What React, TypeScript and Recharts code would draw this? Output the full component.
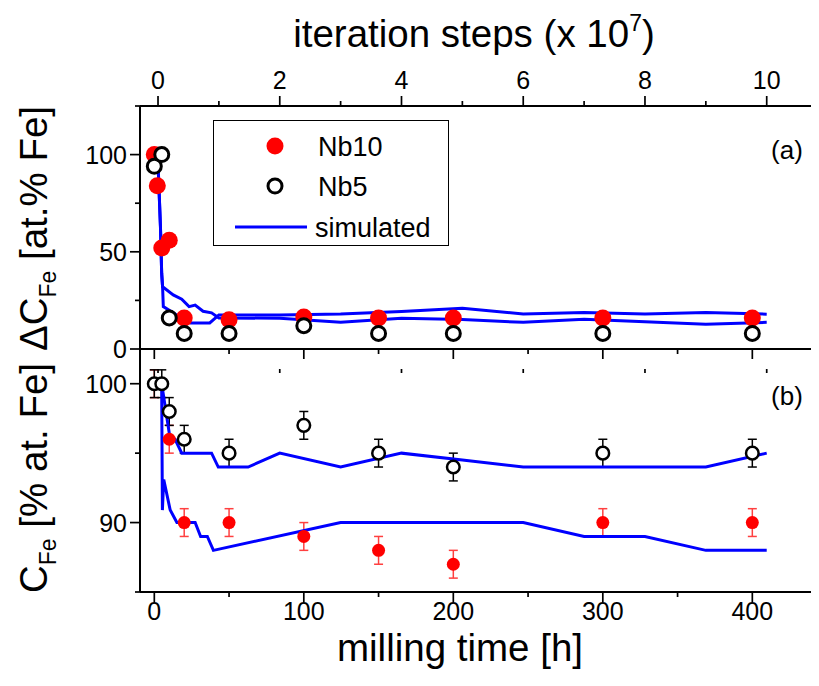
import React from 'react';
import { ComposedChart, Scatter, Line, XAxis, YAxis, ErrorBar, Legend } from 'recharts';

const FONT = "'Liberation Sans', Arial, Helvetica, sans-serif";
const BLUE = '#0000ff';
const RED = '#ff0000';

// panel (a): change of Fe content
const nb10HoursA = [0, 2, 5, 10, 20, 50, 100, 150, 200, 300, 400];
const nb10DeltaA = [100, 84, 52, 56, 16, 15, 16.5, 16, 16, 16, 16];
const nb5HoursA = [0, 5, 10, 20, 50, 100, 150, 200, 300, 400];
const nb5DeltaA = [94, 100, 16, 8, 8, 12, 8, 8, 8, 8];

// simulated curves are stored in iteration steps (x 10^7)
const simStepsA1 = [0, 0.04, 0.06, 0.075, 0.25, 0.39, 0.51, 0.61, 0.74, 0.88, 1, 2, 3, 4, 5, 6, 7, 8, 9, 10];
const simDeltaA1 = [95.6, 63, 39, 32, 27.8, 25.6, 21.8, 22.6, 19.4, 18.6, 16, 15.8, 13.7, 15.8, 15.2, 13.7, 15.3, 14, 12.7, 13.7];
const simStepsA2 = [0, 0.04, 0.06, 0.075, 0.087, 0.25, 0.42, 0.53, 0.85, 1, 2, 3, 4, 5, 6, 7, 8, 9, 10];
const simDeltaA2 = [95.6, 63, 39, 32, 21.8, 18.6, 15.1, 13.4, 13.4, 17.5, 17.5, 18, 19.3, 21, 18, 18.8, 18, 18.8, 17.9];

// panel (b): Fe content
const nb10HoursB = [0, 10, 20, 50, 100, 150, 200, 300, 400];
const nb10ConcB = [100, 96, 90, 90, 89, 88, 87, 90, 90];
const nb5HoursB = [0, 5, 10, 20, 50, 100, 150, 200, 300, 400];
const nb5ConcB = [100, 100, 98, 96, 95, 97, 95, 94, 95, 95];
const concErr = 1;

const simStepsB1 = [0.06, 0.2, 0.28, 0.39, 0.88, 0.99, 1.48, 2, 3, 4, 5, 6, 7, 8, 9, 10];
const simConcB1 = [100, 96, 96, 95, 95, 94, 94, 95, 94, 95, 94.5, 94, 94, 94, 94, 95];
const simStepsB2 = [0.06, 0.072, 0.094, 0.2, 0.31, 0.61, 0.7, 0.81, 0.91, 3, 4, 5, 6, 7, 8, 9, 10];
const simConcB2 = [99.8, 90.9, 93.1, 90.9, 90, 90, 89, 89, 88, 90, 90, 90, 90, 89, 89, 88, 88];

// ticks
const hourTicks = [0, 50, 100, 150, 200, 250, 300, 350, 400];
const hourMajors = [0, 100, 200, 300, 400];
const stepTicks = [0, 1, 2, 3, 4, 5, 6, 7, 8, 9, 10];
const stepMajors = [0, 2, 4, 6, 8, 10];
const deltaTicks = [0, 25, 50, 75, 100, 125];
const deltaMajors = [0, 50, 100];
const concTicks = [85, 90, 95, 100];
const concMajors = [90, 100];

const HOUR_DOMAIN = [-9.57, 444.6];
const STEP_DOMAIN = [-0.296, 10.859];

const pts = (xs: number[], ys: number[], key: string) => xs.map((x, i) => ({ [key]: x, v: ys[i] }));
const withErr = (xs: number[], ys: number[]) => xs.map((x, i) => ({ h: x, v: ys[i], e: concErr }));

const nb10A = pts(nb10HoursA, nb10DeltaA, 'h');
const nb5A = pts(nb5HoursA, nb5DeltaA, 'h');
const simA1 = pts(simStepsA1, simDeltaA1, 's');
const simA2 = pts(simStepsA2, simDeltaA2, 's');
const nb10B = withErr(nb10HoursB, nb10ConcB);
const nb5B = withErr(nb5HoursB, nb5ConcB);
const simB1 = pts(simStepsB1, simConcB1, 's');
const simB2 = pts(simStepsB2, simConcB2, 's');

// custom ticks: long major ticks, short minor ones, direction chosen per axis
function makeTick(side: 'top' | 'bottom' | 'left', majors: number[], inward = false, labels = true, gap = 0) {
  return (p: any) => {
    const v = p.payload.value;
    const major = majors.includes(v);
    const len = major ? 10 : 5;
    const x = p.x;
    const y = p.y;
    if (side === 'left') {
      return (
        <g>
          <line x1={x - len} x2={x} y1={y} y2={y} stroke="#000" strokeWidth={1.7} />
          {labels && major && (
            <text x={x - gap} y={y} dy="0.36em" textAnchor="end" fontSize={25} fontFamily={FONT} fill="#000">
              {v}
            </text>
          )}
        </g>
      );
    }
    const out = side === 'top' ? -1 : 1;
    const d = inward ? -out : out;
    return (
      <g>
        <line x1={x} x2={x} y1={y} y2={y + d * len} stroke="#000" strokeWidth={1.7} />
        {labels && major && (
          <text x={x} y={y + out * gap} textAnchor="middle" fontSize={25} fontFamily={FONT} fill="#000">
            {v}
          </text>
        )}
      </g>
    );
  };
}

const redDot = (r: number) => (p: any) => <circle cx={p.cx} cy={p.cy} r={r} fill={RED} />;
const openDot = (r: number, w: number) => (p: any) => (
  <circle cx={p.cx} cy={p.cy} r={r} fill="#fff" stroke="#000" strokeWidth={w} />
);

const TITLE = 38.5;

const TopTitle = () => (
  <text x={466} y={39} textAnchor="middle" fontSize={TITLE} fontFamily={FONT} fill="#000">
    iteration steps (x 10
    <tspan dy={-16} fontSize={23}>7</tspan>
    <tspan dy={16}>)</tspan>
  </text>
);

const BottomTitle = () => (
  <text x={452} y={316} textAnchor="middle" fontSize={TITLE} fontFamily={FONT} fill="#000">
    milling time [h]
  </text>
);

const DeltaTitle = () => (
  <text x={39} y={220.5} transform="rotate(-90 39 220.5)" textAnchor="middle" fontSize={TITLE} fontFamily={FONT} fill="#000">
    ΔC<tspan dy={9} fontSize={23}>Fe</tspan>
    <tspan dy={-9}> [at.% Fe]</tspan>
  </text>
);

const ConcTitle = () => (
  <text x={39} y={133} transform="rotate(-90 39 133)" textAnchor="middle" fontSize={TITLE} fontFamily={FONT} fill="#000">
    C<tspan dy={9} fontSize={23}>Fe</tspan>
    <tspan dy={-9}> [% at. Fe]</tspan>
  </text>
);

const LegendBox = () => (
  <svg width={237} height={127} style={{ display: 'block' }}>
    <rect x={0.5} y={0.5} width={235} height={125} fill="#fff" stroke="#000" strokeWidth={1} />
    <circle cx={62} cy={26} r={8.5} fill={RED} />
    <text x={105} y={26} dy="0.36em" fontSize={27} fontFamily={FONT} fill="#000">Nb10</text>
    <circle cx={62} cy={66} r={7} fill="#fff" stroke="#000" strokeWidth={3} />
    <text x={105} y={66} dy="0.36em" fontSize={27} fontFamily={FONT} fill="#000">Nb5</text>
    <line x1={22} x2={94} y1={107} y2={107} stroke={BLUE} strokeWidth={3} />
    <text x={102} y={107} dy="0.36em" fontSize={27} fontFamily={FONT} fill="#000">simulated</text>
  </svg>
);

const axisLine = { stroke: '#000', strokeWidth: 2 };

export default function App() {
  return (
    <div style={{ position: 'relative', width: 811, height: 670 }}>
      <div style={{ position: 'absolute', left: 0, top: 0 }}>
        <ComposedChart width={811} height={365} margin={{ top: 58, right: 0, bottom: 23, left: 72 }}>
          <XAxis
            xAxisId="step"
            orientation="top"
            type="number"
            dataKey="s"
            domain={STEP_DOMAIN}
            allowDataOverflow
            ticks={stepTicks}
            interval={0}
            tickSize={0}
            tickMargin={0}
            tickLine={false}
            tick={makeTick('top', stepMajors, false, true, 17)}
            axisLine={axisLine}
            height={40}
            label={<TopTitle />}
          />
          <XAxis
            xAxisId="stepIn"
            orientation="bottom"
            type="number"
            dataKey="s"
            domain={STEP_DOMAIN}
            allowDataOverflow
            ticks={stepTicks}
            interval={0}
            tickSize={0}
            tickMargin={0}
            tickLine={false}
            tick={makeTick('bottom', stepMajors, true, false)}
            axisLine={axisLine}
            height={1}
          />
          <XAxis xAxisId="h" type="number" dataKey="h" domain={HOUR_DOMAIN} allowDataOverflow hide />
          <YAxis
            type="number"
            dataKey="v"
            domain={[0, 125]}
            allowDataOverflow
            ticks={deltaTicks}
            interval={0}
            tickSize={0}
            tickMargin={0}
            tickLine={false}
            tick={makeTick('left', deltaMajors, false, true, 13)}
            axisLine={axisLine}
            width={60}
            label={<DeltaTitle />}
          />
          <Scatter xAxisId="h" data={nb10A} dataKey="v" shape={redDot(8.5)} isAnimationActive={false} />
          <Scatter xAxisId="h" data={nb5A} dataKey="v" shape={openDot(7, 3)} isAnimationActive={false} />
          <Line xAxisId="step" data={simA1} dataKey="v" stroke={BLUE} strokeWidth={3} dot={false} activeDot={false} isAnimationActive={false} />
          <Line xAxisId="step" data={simA2} dataKey="v" stroke={BLUE} strokeWidth={3} dot={false} activeDot={false} isAnimationActive={false} />
          <Legend
            layout="vertical"
            align="center"
            verticalAlign="middle"
            content={() => <LegendBox />}
            wrapperStyle={{ left: 205, top: 112, width: 237, height: 127 }}
          />
          <text x={779} y={151} textAnchor="middle" fontSize={26} fontFamily={FONT} fill="#000">(a)</text>
        </ComposedChart>
      </div>
      <div style={{ position: 'absolute', left: 0, top: 337 }}>
        <ComposedChart width={811} height={333} margin={{ top: 3, right: 0, bottom: 26, left: 72 }}>
          <XAxis
            xAxisId="hTop"
            orientation="top"
            type="number"
            dataKey="h"
            domain={HOUR_DOMAIN}
            allowDataOverflow
            ticks={hourTicks}
            interval={0}
            tickSize={0}
            tickMargin={0}
            tickLine={false}
            tick={makeTick('top', hourMajors, true, false)}
            axisLine={axisLine}
            height={1}
          />
          <XAxis
            xAxisId="h"
            orientation="bottom"
            type="number"
            dataKey="h"
            domain={HOUR_DOMAIN}
            allowDataOverflow
            ticks={hourTicks}
            interval={0}
            tickSize={0}
            tickMargin={0}
            tickLine={false}
            tick={makeTick('bottom', hourMajors, false, true, 28)}
            axisLine={axisLine}
            height={60}
            label={<BottomTitle />}
          />
          <XAxis xAxisId="step" type="number" dataKey="s" domain={STEP_DOMAIN} allowDataOverflow hide />
          <YAxis
            type="number"
            dataKey="v"
            domain={[85, 102.5]}
            allowDataOverflow
            ticks={concTicks}
            interval={0}
            tickSize={0}
            tickMargin={0}
            tickLine={false}
            tick={makeTick('left', concMajors, false, true, 13)}
            axisLine={axisLine}
            width={60}
            label={<ConcTitle />}
          />
          <Scatter xAxisId="h" data={nb10B} dataKey="v" shape={redDot(6.5)} isAnimationActive={false}>
            <ErrorBar dataKey="e" direction="y" width={4.5} stroke="#ff4040" strokeWidth={1.5} />
          </Scatter>
          <Scatter xAxisId="h" data={nb5B} dataKey="v" shape={openDot(6.3, 2.5)} isAnimationActive={false}>
            <ErrorBar dataKey="e" direction="y" width={4.5} stroke="#000" strokeWidth={1.5} />
          </Scatter>
          <Line xAxisId="step" data={simB1} dataKey="v" stroke={BLUE} strokeWidth={3} dot={false} activeDot={false} isAnimationActive={false} />
          <Line xAxisId="step" data={simB2} dataKey="v" stroke={BLUE} strokeWidth={3} dot={false} activeDot={false} isAnimationActive={false} />
          <text x={779} y={60} textAnchor="middle" fontSize={26} fontFamily={FONT} fill="#000">(b)</text>
        </ComposedChart>
      </div>
    </div>
  );
}
